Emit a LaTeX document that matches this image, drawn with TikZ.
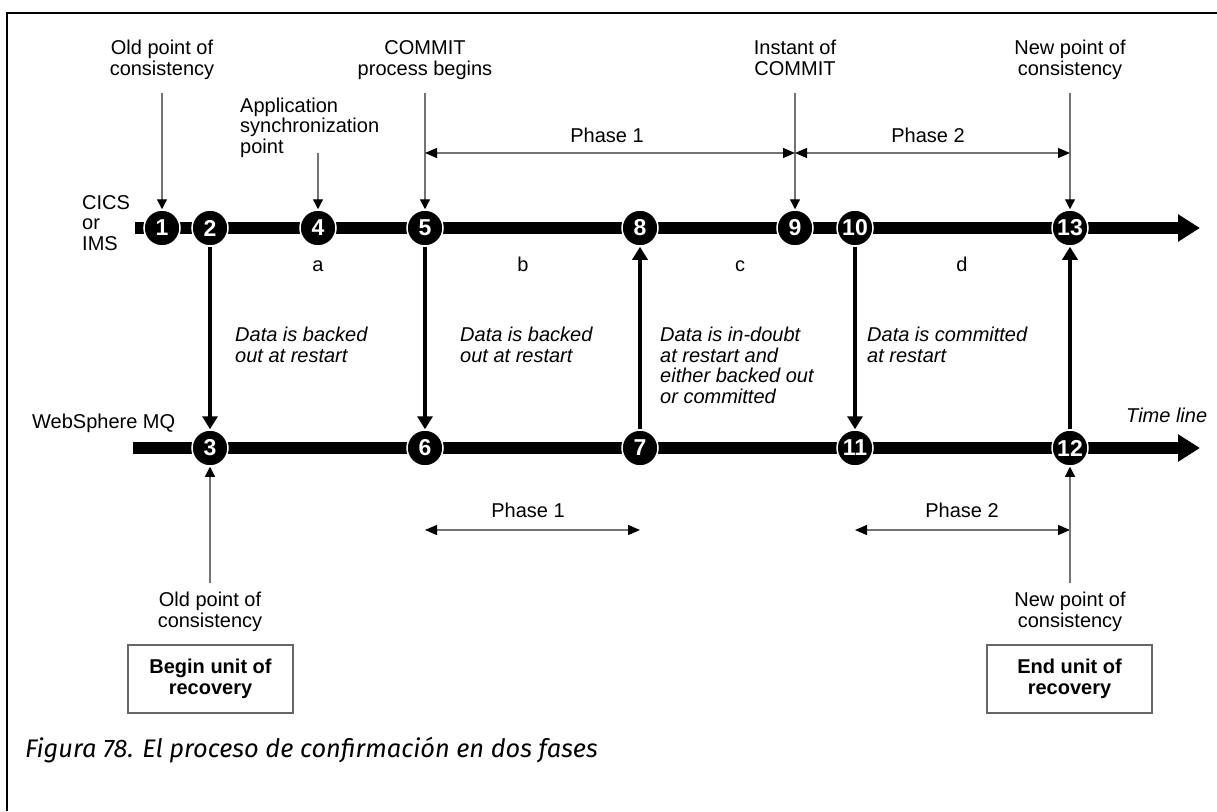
\documentclass[tikz,border=0pt]{standalone}
\usepackage{fontspec}
\setmainfont{Liberation Sans}
\newfontfamily\capfont{Fira Sans}
\usetikzlibrary{arrows.meta}
\begin{document}
\begin{tikzpicture}[x=1pt,y=-1pt,
  lbl/.style={font=\fontsize{20}{20.5}\selectfont, inner sep=0pt, anchor=base, align=center},
  lbll/.style={lbl, align=left, anchor=base west},
  note/.style={lbll, font=\fontsize{20}{20.5}\selectfont\itshape},
  pt/.style={circle, fill=black, draw=white, line width=1.5pt, minimum size=36pt, inner sep=0pt, text=white, font=\fontsize{23}{23}\selectfont\bfseries},
  timeline/.style={line width=12pt, -{Triangle[length=22pt,width=26pt]}},
  link/.style={line width=4.5pt, -{Triangle[length=13pt,width=15pt]}},
  pointer/.style={draw=black!55, line width=1.2pt, -{Triangle[length=10pt,width=10pt,color=black]}},
  span/.style={draw=black!55, line width=1.2pt, {Triangle[length=12pt,width=10pt,color=black]}-{Triangle[length=12pt,width=10pt,color=black]}},
  unitbox/.style={draw=black!60, line width=1.5pt, minimum width=165pt, minimum height=68pt, align=center, font=\fontsize{20}{21}\selectfont\bfseries, inner sep=0pt},
]
\useasboundingbox (0,0) rectangle (1217,811);
\draw[line width=2.5pt] (7,811) -- (7,13) -- (1217,13);

% time lines
\coordinate (ts) at (135,228); \coordinate (te) at (1200,228);
\coordinate (bs) at (133,448); \coordinate (be) at (1200,448);
\draw[timeline] (ts) -- (te);
\draw[timeline] (bs) -- (be);

% points
\node[pt] (c1) at (162,228) {1};
\node[pt] (c2) at (210,228) {2};
\node[pt] (c4) at (318,228) {4};
\node[pt] (c5) at (425,228) {5};
\node[pt] (c8) at (640,228) {8};
\node[pt] (c9) at (795,228) {9};
\node[pt] (c10) at (855,228) {10};
\node[pt] (c13) at (1070,228) {13};
\node[pt] (c3) at (210,448) {3};
\node[pt] (c6) at (425,448) {6};
\node[pt] (c7) at (640,448) {7};
\node[pt] (c11) at (855,448) {11};
\node[pt] (c12) at (1070,448) {12};

% labels above (base anchor = last line)
\node[lbl] (l1) at (162,75) {Old point of\\consistency};
\node[lbll] (l4) at (240,153) {Application\\synchronization\\point};
\node[lbl] (l5) at (425,75) {COMMIT\\process begins};
\node[lbl] (l9) at (795,75) {Instant of\\COMMIT};
\node[lbl] (l13) at (1070,75) {New point of\\consistency};
\coordinate (a1) at (162,93);
\coordinate (a4) at (318,153);
\coordinate (a5) at (425,93);
\coordinate (a9) at (795,93);
\coordinate (a13) at (1070,93);
\draw[pointer] (a1) -- (c1);
\draw[pointer] (a4) -- (c4);
\draw[pointer] (a5) -- (c5);
\draw[pointer] (a9) -- (c9);
\draw[pointer] (a13) -- (c13);

% phases top
\coordinate (p1s) at (425,153); \coordinate (p1e) at (795,153);
\coordinate (p2s) at (795,153); \coordinate (p2e) at (1070,153);
\draw[span] (p1s) -- (p1e);
\draw[span] (p2s) -- (p2e);
\node[lbl] (ph1) at (607,142) {Phase 1};
\node[lbl] (ph2) at (928,142) {Phase 2};

% system names
\node[lbll] (cics) at (82,250) {CICS\\or\\IMS};
\node[lbll] (wmq) at (32,428) {WebSphere MQ};

% intervals
\node[lbl] (ia) at (318,271) {a};
\node[lbl] (ib) at (523,271) {b};
\node[lbl] (ic) at (740,271) {c};
\node[lbl] (id) at (962,271) {d};

% links
\draw[link] (c2) -- (c3);
\draw[link] (c5) -- (c6);
\draw[link] (c7) -- (c8);
\draw[link] (c10) -- (c11);
\draw[link] (c12) -- (c13);

% notes
\node[note] (n1) at (235,362) {Data is backed\\out at restart};
\node[note] (n2) at (460,362) {Data is backed\\out at restart};
\node[note] (n3) at (660,403) {Data is in-doubt\\at restart and\\either backed out\\or committed};
\node[note] (n4) at (867,362) {Data is committed\\at restart};
\node[note] (tl) at (1126,422) {Time line};

% phases bottom
\coordinate (q1s) at (425,530); \coordinate (q1e) at (640,530);
\coordinate (q2s) at (855,530); \coordinate (q2e) at (1070,530);
\draw[span] (q1s) -- (q1e);
\draw[span] (q2s) -- (q2e);
\node[lbl] (qh1) at (528,517) {Phase 1};
\node[lbl] (qh2) at (962,517) {Phase 2};

% pointers below
\coordinate (a3) at (210,583);
\coordinate (a12) at (1070,583);
\draw[pointer] (a3) -- (c3);
\draw[pointer] (a12) -- (c12);
\node[lbl] (l3) at (210,627) {Old point of\\consistency};
\node[lbl] (l12) at (1070,627) {New point of\\consistency};

% unit boxes
\node[unitbox] (bu) at (210.5,679) {Begin unit of\\recovery\vphantom{p}};
\node[unitbox] (eu) at (1069.5,679) {End unit of\\recovery\vphantom{p}};

% caption
\node[anchor=base west, inner sep=0pt, font=\capfont\itshape\fontsize{25.4}{25.4}\selectfont] (cap) at (25,757) {Figura 78. El proceso de confirmación en dos fases};
\end{tikzpicture}
\end{document}
